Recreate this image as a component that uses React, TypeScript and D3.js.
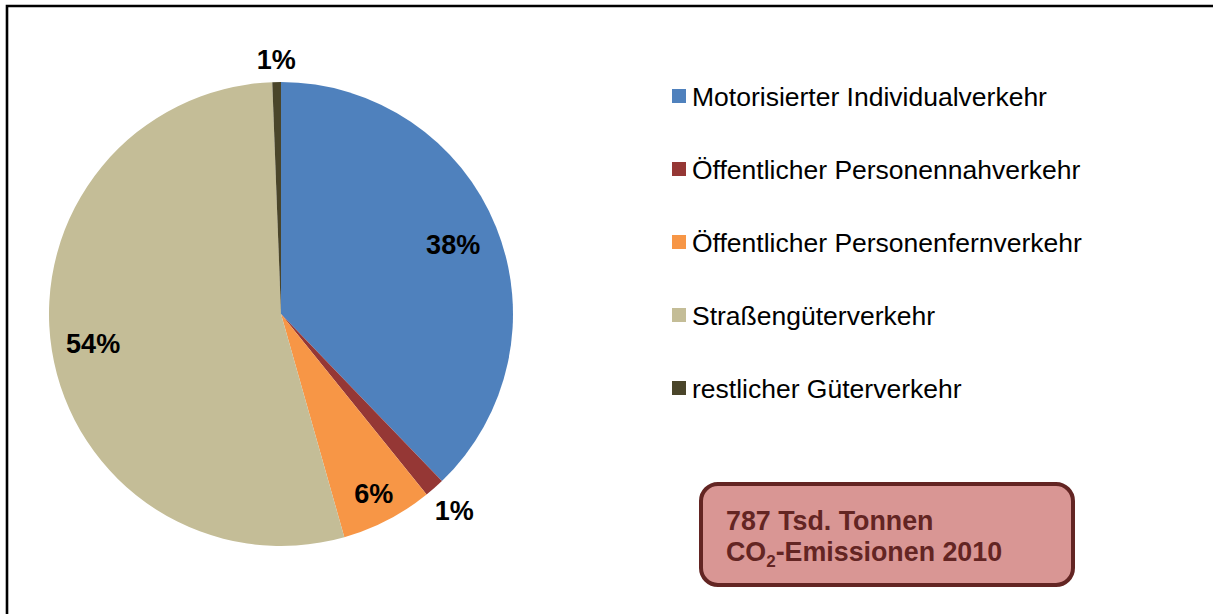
import * as d3 from "d3";

const categories = [
  "Motorisierter Individualverkehr",
  "Öffentlicher Personennahverkehr",
  "Öffentlicher Personenfernverkehr",
  "Straßengüterverkehr",
  "restlicher Güterverkehr",
];
const shares = [37.8, 1.4, 6.4, 53.8, 0.6];
const colors = ["#4F81BD", "#953735", "#F79646", "#C4BD97", "#4A452A"];
// label distance from centre, as a fraction of the radius (thin slices sit outside)
const labelRadius = [0.8, 1.13, 0.87, 0.82, 1.1];

const totalText = "787 Tsd. Tonnen";

const W = 1213;
const H = 614;
const FONT = "'Liberation Sans', Arial, Helvetica, sans-serif";

export default function App() {
  const cx = 281;
  const cy = 314;
  const r = 232;

  const pie = d3.pie<number>().sort(null).value((d) => d);
  const arcs = pie(shares);
  const arc = d3.arc<d3.PieArcDatum<number>>().innerRadius(0).outerRadius(r);

  // legend rows
  const legendY = d3.scalePoint<string>().domain(categories).range([96, 388]);

  return (
    <div style={{ position: "absolute", left: 0, top: 0 }}>
      <svg width={W} height={H} style={{ display: "block", fontFamily: FONT }}>
        <rect width={W} height={H} fill="#fff" />
        <path d={`M7,${H} L7,6 L${W},6`} fill="none" stroke="#000" strokeWidth={2.6} />

        <g transform={`translate(${cx},${cy})`}>
          {arcs.map((a, i) => (
            <path key={i} d={arc(a) || ""} fill={colors[i]} />
          ))}
          {arcs.map((a, i) => {
            const lr = r * labelRadius[i];
            const [x, y] = d3
              .arc<d3.PieArcDatum<number>>()
              .innerRadius(lr)
              .outerRadius(lr)
              .centroid(a);
            return (
              <text
                key={"l" + i}
                x={x}
                y={y}
                dy="0.36em"
                textAnchor="middle"
                fontSize={27}
                fontWeight="bold"
                fill="#000"
              >
                {Math.round(a.data) + "%"}
              </text>
            );
          })}
        </g>

        <g>
          {categories.map((c, i) => {
            const y = legendY(c) as number;
            return (
              <g key={c} transform={`translate(672,${y})`}>
                <rect x={0} y={-7} width={14} height={14} fill={colors[i]} />
                <text x={20} y={0} dy="0.36em" fontSize={26.5} fill="#000">
                  {c}
                </text>
              </g>
            );
          })}
        </g>

        <g>
          <rect
            x={701}
            y={484}
            width={372}
            height={101}
            rx={17}
            fill="#D99694"
            stroke="#632523"
            strokeWidth={4}
          />
          <text x={726} y={530} fontSize={26.8} fontWeight="bold" fill="#632523">
            {totalText}
          </text>
          <text x={726} y={561} fontSize={26.8} fontWeight="bold" fill="#632523">
            CO
            <tspan fontSize={17} dy={6}>2</tspan>
            <tspan dy={-6}>-Emissionen 2010</tspan>
          </text>
        </g>
      </svg>
    </div>
  );
}
